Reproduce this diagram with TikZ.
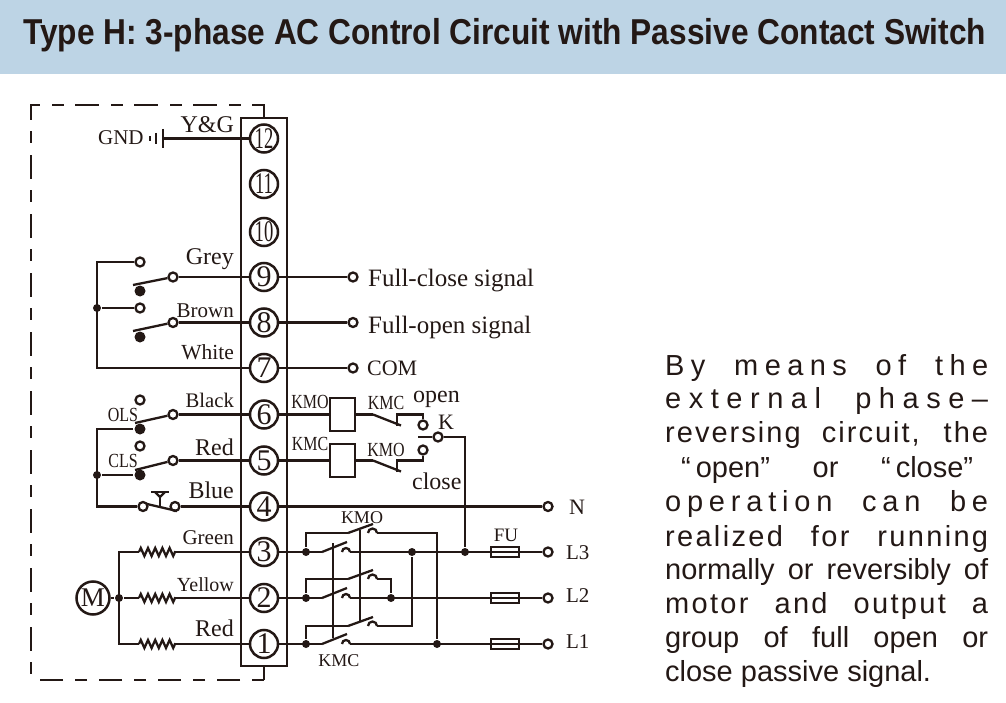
\documentclass[tikz,border=0pt]{standalone}
\usepackage{fontspec,graphicx}
\usetikzlibrary{decorations.pathmorphing}
\setmainfont{Liberation Serif}
\newfontfamily\headfont{Liberation Sans}
\definecolor{ink}{HTML}{231815}
\definecolor{headblue}{HTML}{BDD4E5}
\newcommand{\narrow}[1]{\scalebox{.62}[1]{#1}}
\newcommand{\thin}[1]{\scalebox{.8}[1]{#1}}
\newcommand{\pline}[2]{\makebox[323pt][s]{\addfontfeature{LetterSpace=#1}#2}}

\begin{document}
\begin{tikzpicture}[x=1pt, y=-1pt, line width=2.3pt, color=ink,
	term node/.style={circle, draw, line width=2.5pt, minimum size=28pt, inner sep=0pt, font=\fontsize{30}{30}\selectfont},
	open node/.style={circle, draw, minimum size=9pt, inner sep=0pt},
	dot node/.style={circle, fill, minimum size=8pt, inner sep=0pt},
	solid node/.style={circle, fill, minimum size=11pt, inner sep=0pt},
	coil node/.style={rectangle, draw, minimum width=25pt, minimum height=33pt, inner sep=0pt},
	fuse node/.style={rectangle, draw, minimum width=28pt, minimum height=10pt, inner sep=0pt},
	wire label/.style={anchor=base east, inner sep=0pt, font=\fontsize{#1}{26}\selectfont},
	wire label/.default=22,
	free label/.style={anchor=base west, inner sep=0pt, font=\fontsize{#1}{26}\selectfont},
	free label/.default=22,
	small label/.style={anchor=base, inner sep=0pt, font=\fontsize{#1}{24}\selectfont},
	small label/.default=20,
	text line/.style={anchor=base west, inner sep=0pt, font=\headfont\fontsize{29}{34}\selectfont},
	dash box/.style={line width=2.3pt, dash pattern=on 24pt off 11pt on 12pt off 12pt},
	dash foot/.style={line width=2.3pt, dash pattern=on 12pt off 12pt on 23pt off 12pt},
	resistor/.style={decorate, decoration={zigzag, segment length=7.2pt, amplitude=4pt}}]
	\useasboundingbox (0,0) rectangle (1006,703);

	% header
	\node[rectangle, fill=headblue, minimum width=1006pt, minimum height=74pt, inner sep=0pt] (head) at (503,37) {};
	\node[anchor=base west, inner sep=0pt, font=\headfont\bfseries\fontsize{36}{40}\selectfont] (title) at (22,45)
		{\resizebox{963pt}{\height}{Type H: 3-phase AC Control Circuit with Passive Contact Switch}};

	% terminal strip
	\node[rectangle, draw, minimum width=46pt, minimum height=548pt, inner sep=0pt] (strip) at (264,392) {};
	\node[term node] (t12) at (264,138.5) {\narrow{12}};
	\node[term node] (t11) at (264,184) {\narrow{11}};
	\node[term node] (t10) at (264,232) {\narrow{10}};
	\node[term node] (t9) at (264,277) {9};
	\node[term node] (t8) at (264,322.5) {8};
	\node[term node] (t7) at (264,368) {7};
	\node[term node] (t6) at (264,414.5) {6};
	\node[term node] (t5) at (264,460.5) {5};
	\node[term node] (t4) at (264,506.5) {4};
	\node[term node] (t3) at (264,552) {3};
	\node[term node] (t2) at (264,598) {2};
	\node[term node] (t1) at (264,644) {1};
	\coordinate (boxa) at (264,105);
	\coordinate (boxb) at (31,105);
	\coordinate (boxe) at (31,675);
	\coordinate (boxd) at (264,680);
	\coordinate (boxc) at (31,680);
	\draw[dash box] (strip.north) -- (boxa) -- (boxb) -- (boxe);
	\draw (strip.south) -- (boxd);
	\draw[dash foot] (boxd) -- (boxc);

	% ground
	\coordinate (gnda) at (163,138.5);
	\coordinate (gndb) at (163,129);
	\coordinate (gndc) at (163,148);
	\coordinate (gndd) at (156,133);
	\coordinate (gnde) at (156,144);
	\coordinate (gndf) at (150,136.5);
	\coordinate (gndg) at (150,141.5);
	\path (gnda) edge (t12) (gndb) edge (gndc) (gndd) edge (gnde) (gndf) edge (gndg);
	\node[free label=21] (gndtext) at (97,145) {GND};
	\node[wire label=24] (yg) at (235,133) {Y\&G};

	% limit switches 9 8 7
	\node[open node] (o9) at (173,277) {};
	\node[open node] (o8) at (173,322.5) {};
	\node[open node] (a9) at (140,262) {};
	\node[open node] (a8) at (140,308) {};
	\node[solid node] (s9) at (140,291) {};
	\node[solid node] (s8) at (140,337) {};
	\node[dot node] (j7) at (97,308) {};
	\coordinate (b9) at (133,285);
	\coordinate (b8) at (133,331);
	\coordinate (c9) at (97,262);
	\coordinate (c7) at (97,368);
	\path (o9) edge (t9) (o8) edge (t8) (b9) edge (o9) (b8) edge (o8) (j7) edge (a8);
	\draw (a9) -- (c9) -- (c7) -- (t7);
	\node[wire label=24] (grey) at (235,265) {Grey};
	\node[wire label=21] (brown) at (235,317) {Brown};
	\node[wire label=21.5] (white) at (235,359) {White};

	% signals
	\node[open node] (r9) at (353,277) {};
	\node[open node] (r8) at (353,322.5) {};
	\node[open node] (r7) at (353,368) {};
	\path (t9) edge (r9) (t8) edge (r8) (t7) edge (r7);
	\node[free label=25] (fclose) at (367,287) {Full-close signal};
	\node[free label=25] (fopen) at (367,333) {Full-open signal};
	\node[free label=22] (com) at (366,375) {COM};

	% limit switches 6 5 and button
	\node[open node] (o6) at (173,414.5) {};
	\node[open node] (o5) at (173,460.5) {};
	\node[open node] (a6) at (140,400) {};
	\node[open node] (a5) at (140,446) {};
	\node[solid node] (s6) at (140,429) {};
	\node[solid node] (s5) at (140,475) {};
	\node[dot node] (j5) at (97,475) {};
	\node[open node] (p4) at (143,506.5) {};
	\node[open node] (q4) at (175,506.5) {};
	\coordinate (b6) at (135,423);
	\coordinate (b5) at (135,470);
	\coordinate (c6) at (97,429);
	\coordinate (c4) at (97,506.5);
	\coordinate (bara) at (147,504);
	\coordinate (barb) at (177,511);
	\coordinate (stema) at (160,507.5);
	\coordinate (stemb) at (160,497);
	\coordinate (topa) at (151,492);
	\coordinate (topb) at (169,492);
	\coordinate (topc) at (155,492);
	\coordinate (topd) at (165,492);
	\path (o6) edge (t6) (o5) edge (t5) (q4) edge (t4) (b6) edge (o6) (b5) edge (o5) (j5) edge (s5)
		(bara) edge (barb) (stema) edge (stemb) (topa) edge (topb);
	\draw (s6) -- (c6) -- (c4) -- (p4);
	\draw (topc) -- (stemb) -- (topd);
	\node[small label] (ols) at (123,421) {\thin{OLS}};
	\node[small label] (cls) at (123,467) {\thin{CLS}};
	\node[wire label=20.7] (black) at (235,407) {Black};
	\node[wire label=24] (red) at (235,455) {Red};
	\node[wire label=24] (blue) at (235,498) {Blue};

	% motor
	\node[circle, draw, line width=2.5pt, minimum size=33pt, inner sep=0pt, font=\fontsize{27}{27}\selectfont] (motor) at (93,598) {M};
	\node[dot node] (j2) at (119,598) {};
	\coordinate (c3) at (119,552);
	\coordinate (c1) at (119,644);
	\coordinate (ra3) at (139,552);
	\coordinate (rb3) at (175,552);
	\coordinate (ra2) at (139,598);
	\coordinate (rb2) at (175,598);
	\coordinate (ra1) at (139,644);
	\coordinate (rb1) at (175,644);
	\path (motor) edge (j2) (j2) edge (ra2) (rb2) edge (t2) (rb3) edge (t3) (rb1) edge (t1);
	\draw (ra3) -- (c3) -- (c1) -- (ra1);
	\draw[resistor] (ra3) -- (rb3);
	\draw[resistor] (ra2) -- (rb2);
	\draw[resistor] (ra1) -- (rb1);
	\node[wire label=21] (green) at (235,544) {Green};
	\node[wire label=20] (yellow) at (235,591) {Yellow};
	\node[wire label=24] (red1) at (235,636) {Red};

	% coils and selector
	\node[coil node] (coilo) at (342.5,414.5) {};
	\node[coil node] (coilc) at (342.5,460.5) {};
	\node[open node] (kopen) at (423,425) {};
	\node[open node] (kclose) at (423,450) {};
	\node[open node] (kcom) at (438,437) {};
	\coordinate (ma) at (373,414.5);
	\coordinate (mb) at (401,425.5);
	\coordinate (mc) at (397,426);
	\coordinate (md) at (397,414.5);
	\coordinate (na) at (373,460.5);
	\coordinate (nb) at (401,471.5);
	\coordinate (nc) at (397,472);
	\coordinate (nd) at (397,460.5);
	\coordinate (kfree) at (418,437);
	\path (t6) edge (coilo) (t5) edge (coilc) (coilo) edge (ma) (coilc) edge (na) (ma) edge (mb) (na) edge (nb) (kfree) edge (kcom);
	\draw (mc) -- (md) -| (kopen);
	\draw (nc) -- (nd) -| (kclose);
	\node[small label] (kmoa) at (310,408) {\thin{KMO}};
	\node[small label] (kmca) at (310,450) {\thin{KMC}};
	\node[small label] (kmcb) at (386,409) {\thin{KMC}};
	\node[small label] (kmob) at (386,456) {\thin{KMO}};
	\node[free label=24] (lopen) at (412,402) {open};
	\node[free label=24] (lclose) at (411,489) {close};
	\node[free label=22] (lk) at (437,429) {K};

	% line terminals
	\node[open node] (on) at (548,506.5) {};
	\node[open node] (ol3) at (548,552) {};
	\node[open node] (ol2) at (548,598) {};
	\node[open node] (ol1) at (548,644) {};
	\node[fuse node] (fu3) at (505,552) {};
	\node[fuse node] (fu2) at (505,598) {};
	\node[fuse node] (fu1) at (505,644) {};
	\path (t4) edge (on);
	\node[free label=22] (ln) at (568,514) {N};
	\node[free label=21] (l3) at (565,559) {L3};
	\node[free label=21] (l2) at (565,602) {L2};
	\node[free label=21] (l1) at (565,648) {L1};
	\node[small label=19] (fu) at (506,541) {FU};

	% contactors
	\node[dot node] (d3) at (306,552) {};
	\node[dot node] (d2) at (306,598) {};
	\node[dot node] (d1) at (306,644) {};
	\node[dot node] (e3) at (412,552) {};
	\node[dot node] (e2) at (391,598) {};
	\node[dot node] (e1) at (437,644) {};
	\node[dot node] (k3) at (465,552) {};
	\coordinate (ba3) at (322,552);
	\coordinate (bb3) at (347,542);
	\coordinate (ha3) at (342,552);
	\coordinate (hb3) at (350,552);
	\coordinate (ba2) at (322,598);
	\coordinate (bb2) at (347,588);
	\coordinate (ha2) at (342,598);
	\coordinate (hb2) at (350,598);
	\coordinate (ba1) at (322,644);
	\coordinate (bb1) at (347,634);
	\coordinate (ha1) at (342,644);
	\coordinate (hb1) at (350,644);
	\coordinate (ua3) at (306,533);
	\coordinate (ub3) at (348,533);
	\coordinate (uc3) at (373,524);
	\coordinate (ud3) at (368,533);
	\coordinate (ue3) at (377,533);
	\coordinate (uf3) at (437,533);
	\coordinate (ua2) at (306,579);
	\coordinate (ub2) at (348,579);
	\coordinate (uc2) at (373,570);
	\coordinate (ud2) at (368,579);
	\coordinate (ue2) at (377,579);
	\coordinate (uf2) at (391,579);
	\coordinate (ua1) at (306,626);
	\coordinate (ub1) at (348,626);
	\coordinate (uc1) at (373,617);
	\coordinate (ud1) at (368,626);
	\coordinate (ue1) at (377,626);
	\coordinate (uf1) at (412,626);
	\coordinate (linka) at (333,543);
	\coordinate (linkb) at (333,638);
	\coordinate (linkc) at (360,530);
	\coordinate (linkd) at (360,622);
	\path (t3) edge (ba3) (t2) edge (ba2) (t1) edge (ba1)
		(ba3) edge (bb3) (ba2) edge (bb2) (ba1) edge (bb1)
		(ub3) edge (uc3) (ub2) edge (uc2) (ub1) edge (uc1)
		(hb3) edge (ol3) (hb2) edge (ol2) (hb1) edge (ol1)
		(linka) edge (linkb) (linkc) edge (linkd);
	\draw (d3) -- (ua3) -- (ub3);
	\draw (d2) -- (ua2) -- (ub2);
	\draw (d1) -- (ua1) -- (ub1);
	\draw (ue3) -- (uf3) -- (e1);
	\draw (ue2) -- (uf2) -- (e2);
	\draw (ue1) -- (uf1) -- (e3);
	\draw (kcom) -| (k3);
	\draw (ha3) arc [start angle=180, end angle=0, radius=4pt];
	\draw (ha2) arc [start angle=180, end angle=0, radius=4pt];
	\draw (ha1) arc [start angle=180, end angle=0, radius=4pt];
	\draw (ud3) arc [start angle=180, end angle=0, radius=4.5pt];
	\draw (ud2) arc [start angle=180, end angle=0, radius=4.5pt];
	\draw (ud1) arc [start angle=180, end angle=0, radius=4.5pt];
	\node[small label=18] (kmoc) at (362,523) {KMO};
	\node[small label=18] (kmcc) at (339,666) {KMC};

	% description
	\node[text line] (pa) at (664,375) {\pline{22}{By means of the}};
	\node[text line] (pb) at (664,408) {\pline{26}{external phase–}};
	\node[text line] (pc) at (664,442) {\pline{7}{reversing circuit, the}};
	\node[text line] (pd) at (680,477) {\makebox[292pt][s]{“\kern5pt open” or “\kern5pt close”}};
	\node[text line] (pe) at (664,511) {\pline{20}{operation can be}};
	\node[text line] (pf) at (664,546) {\pline{8}{realized for running}};
	\node[text line] (pg) at (664,579) {\pline{0}{normally or reversibly of}};
	\node[text line] (ph) at (664,613) {\pline{8}{motor and output a}};
	\node[text line] (pi) at (664,647) {\pline{0}{group of full open or}};
	\node[text line] (pj) at (664,681) {close passive signal.};
\end{tikzpicture}
\end{document}
